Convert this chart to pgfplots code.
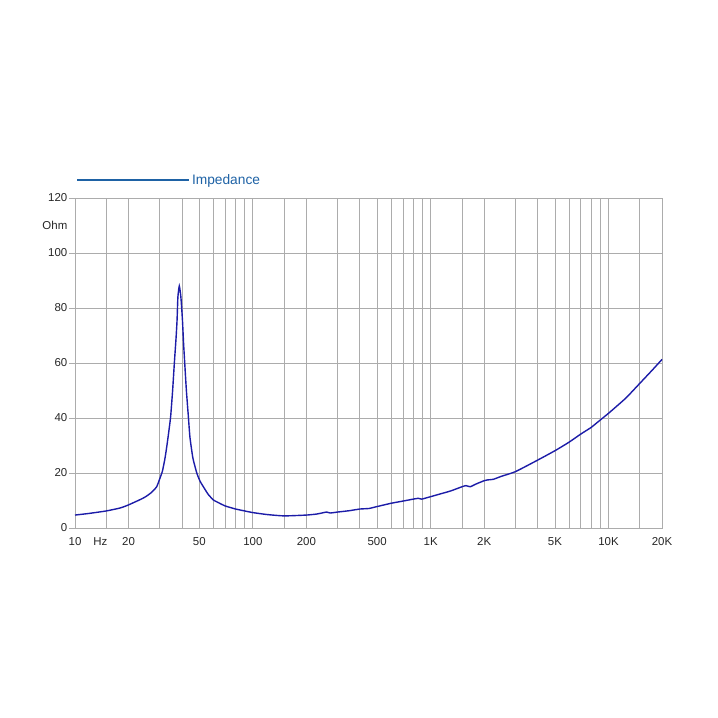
\documentclass[border=0pt]{standalone}
\usepackage{fontspec}
\setmainfont{Liberation Sans}
\usepackage{pgfplots}
\pgfplotsset{compat=1.18}

\definecolor{legendblue}{RGB}{30,98,165}
\definecolor{curveblue}{RGB}{28,28,168}
\definecolor{gridgray}{RGB}{172,172,172}

\begin{document}
\begin{tikzpicture}[x=1bp,y=1bp]
\path[use as bounding box] (0,0) rectangle (718,718);
\begin{axis}[
  at={(75bp,190bp)}, anchor=south west,
  scale only axis, width=587bp, height=330bp,
  xmode=log, xmin=10, xmax=20000, ymin=0, ymax=120,
  log basis x=10,
  xtick={10,20,50,100,200,500,1000,2000,5000,10000,20000},
  xticklabels={10,20,50,100,200,500,1K,2K,5K,10K,20K},
  minor xtick={15,30,40,60,70,80,90,150,300,400,600,700,800,900,1500,3000,4000,6000,7000,8000,9000,15000},
  extra x ticks={13.9},
  extra x tick labels={Hz},
  extra x tick style={grid=none},
  ytick={0,20,40,60,80,100,120},
  xmajorgrids, xminorgrids, ymajorgrids,
  grid style={gridgray, line width=0.9bp},
  minor grid style={gridgray, line width=0.9bp},
  axis line style={gridgray, line width=0.9bp},
  major x tick style={draw=none},
  minor x tick style={draw=none},
  major y tick style={gridgray, line width=0.9bp},
  tick align=outside, major tick length=6bp,
  ytick pos=left,
  tick label style={font=\fontsize{11.5}{13}\selectfont, text=black!85},
  yticklabel style={inner sep=1.5bp},
  xticklabel style={inner sep=2bp, yshift=-1bp},
  /pgf/number format/assume math mode=true,
  legend style={at={(0,1)}, anchor=south west, xshift=1bp, yshift=10bp,
    draw=none, fill=none, inner sep=0pt,
    font=\fontsize{13.8}{16}\selectfont, text=legendblue,
    nodes={inner sep=2bp}},
  legend image code/.code={\draw[#1] (0bp,0bp) -- (112bp,0bp);},
  clip=false,
]
\addlegendimage{legendblue, line width=1.8bp}
\addlegendentry{Impedance}
\addplot[curveblue, line width=1.4bp, smooth, tension=0.3, forget plot] coordinates {
(10,4.7) (12,5.3) (15,6.2) (18,7.3) (20,8.4) (23.2,10.3) (25,11.4) (27,13)
(28.8,15) (30,18) (31,20.6) (32,25) (32.8,29.5) (33.6,34.5) (34.5,40.5) (35.4,50)
(36.2,60) (37,69) (37.5,75.6) (37.9,84) (38.6,88) (39.4,84) (40.2,75.6) (40.8,67)
(41.4,60) (42.3,50) (43.4,40.5) (44.3,33) (46,25.5) (48.4,20) (50.5,17) (52.7,15)
(56,12.3) (60,10.2) (65,9) (70,8) (80,6.9) (90,6.2) (100,5.6) (120,4.9) (150,4.4)
(200,4.7) (230,5.1) (260,5.8) (272,5.45) (300,5.8) (350,6.3) (400,6.9) (450,7.1)
(500,7.8) (600,9.0) (700,9.8) (850,10.8) (890,10.5) (1000,11.4) (1120,12.3)
(1300,13.5) (1500,15.0) (1580,15.4) (1670,15.0) (1800,16) (2000,17.2) (2100,17.5)
(2250,17.7) (2500,18.8) (3000,20.5) (4000,24.7) (5000,28.1) (6000,31.2)
(7000,34.2) (8000,36.6) (9000,39.3) (10000,41.7) (12500,47.2) (15000,52.6)
(17500,57.2) (20000,61.3)
};
\node[anchor=east, font=\fontsize{11.5}{13}\selectfont, text=black!85, inner sep=1.5bp]
  at ([xshift=-6bp]axis cs:10,110) {Ohm};
\end{axis}
\end{tikzpicture}
\end{document}
